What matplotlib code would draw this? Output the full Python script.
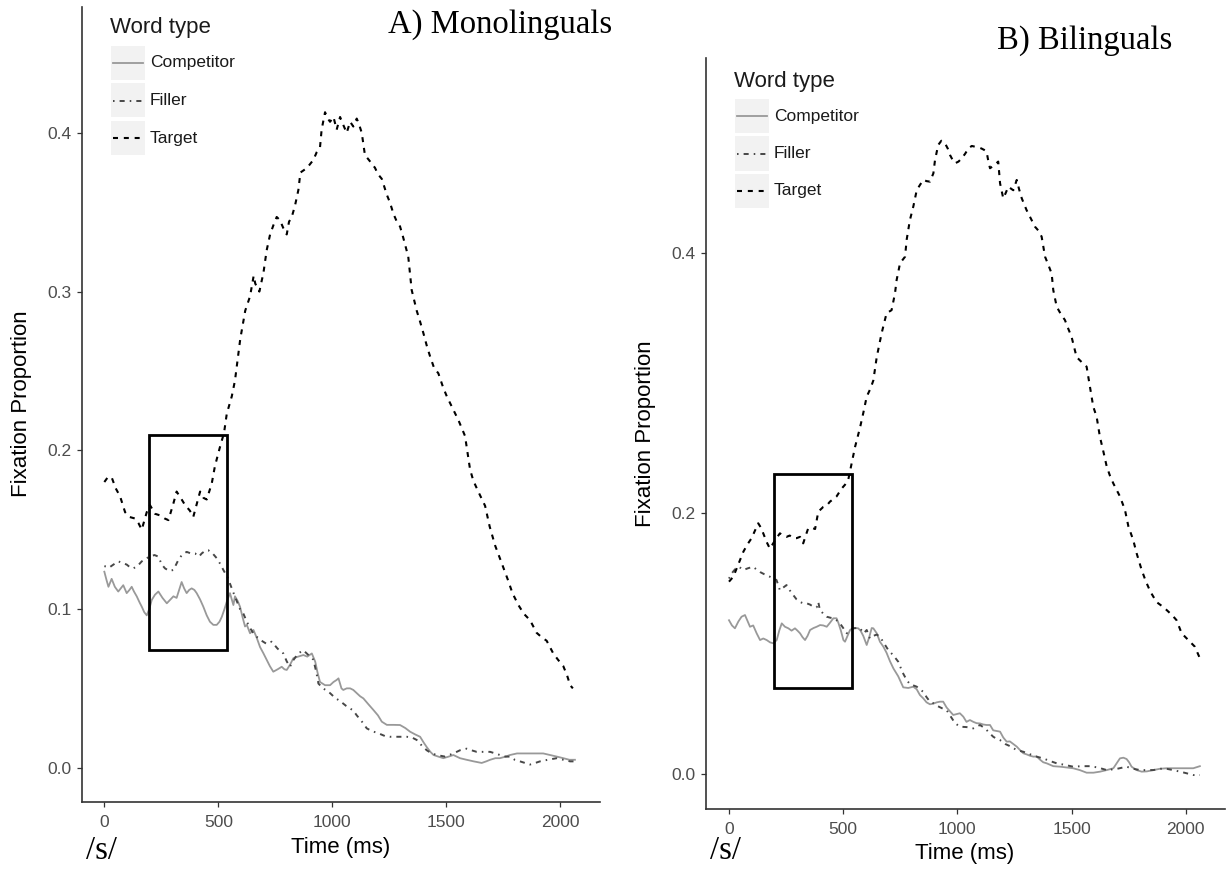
import numpy as np
import matplotlib
matplotlib.use("Agg")
import matplotlib.pyplot as plt
from matplotlib.patches import Rectangle
from matplotlib.lines import Line2D

# ---- data ----
mono_target_t = [0, 15, 32, 50, 69, 91, 110, 135, 150, 164, 186, 200, 222, 244, 265, 281, 303, 317, 335, 354,
                 375, 390, 405, 420, 435, 449, 460, 471, 485, 507, 525, 537, 559, 573, 596, 618, 639, 655, 662, 680,
                 698, 712, 727, 742, 756, 770, 785, 800, 810, 822, 836, 851, 860, 880, 895, 917, 932, 946, 953, 968,
                 980, 990, 1005, 1019, 1034, 1048, 1063, 1078, 1092, 1107, 1118, 1129, 1143, 1160, 1187, 1200, 1217,
                 1239, 1253, 1268, 1283, 1297, 1311, 1333, 1348, 1370, 1385, 1399, 1414, 1429, 1446, 1465, 1485, 1502,
                 1524, 1553, 1582, 1604, 1618, 1640, 1670, 1690, 1714, 1740, 1771, 1790, 1816, 1840, 1867, 1896, 1920,
                 1940, 1969, 1990, 2013, 2030, 2043, 2055]
mono_target_y = [0.180, 0.183, 0.183, 0.176, 0.171, 0.161, 0.158, 0.157, 0.154, 0.150, 0.161, 0.1655, 0.160, 0.159,
                 0.157, 0.156, 0.1666, 0.174, 0.170, 0.1655, 0.162, 0.158, 0.166, 0.174, 0.170, 0.169, 0.174, 0.179,
                 0.190, 0.202, 0.211, 0.223, 0.234, 0.244, 0.270, 0.288, 0.297, 0.310, 0.305, 0.300, 0.312, 0.326,
                 0.336, 0.342, 0.347, 0.345, 0.340, 0.336, 0.344, 0.347, 0.354, 0.364, 0.375, 0.377, 0.379, 0.383,
                 0.388, 0.391, 0.402, 0.413, 0.409, 0.407, 0.410, 0.402, 0.410, 0.405, 0.400, 0.407, 0.404, 0.409,
                 0.405, 0.400, 0.386, 0.383, 0.378, 0.374, 0.371, 0.361, 0.356, 0.349, 0.344, 0.341, 0.334, 0.322,
                 0.301, 0.288, 0.281, 0.274, 0.266, 0.259, 0.252, 0.2485, 0.240, 0.234, 0.2275, 0.219, 0.209, 0.188,
                 0.181, 0.174, 0.165, 0.152, 0.140, 0.130, 0.118, 0.110, 0.1025, 0.097, 0.093, 0.085, 0.082, 0.080,
                 0.072, 0.068, 0.064, 0.058, 0.052, 0.050]

mono_filler_t = [0, 10, 20, 40, 61, 80, 98, 115, 127, 145, 164, 185, 200, 220, 237, 252, 266, 285, 303, 325, 340,
                 361, 380, 398, 415, 427, 445, 456, 475, 493, 510, 522, 540, 551, 573, 595, 610, 625, 639, 654, 668,
                 690, 712, 734, 760, 785, 800, 814, 830, 850, 873, 895, 917, 930, 939, 960, 990, 1012, 1034, 1060,
                 1092, 1107, 1130, 1151, 1175, 1202, 1230, 1253, 1290, 1326, 1350, 1370, 1392, 1414, 1436, 1458, 1494,
                 1531, 1560, 1589, 1610, 1633, 1660, 1692, 1715, 1735, 1760, 1779, 1800, 1823, 1845, 1867, 1890, 1911,
                 1945, 1984, 2013, 2043, 2060]
mono_filler_y = [0.127, 0.1267, 0.126, 0.128, 0.130, 0.129, 0.128, 0.126, 0.1256, 0.127, 0.130, 0.132, 0.133, 0.134,
                 0.133, 0.128, 0.1256, 0.124, 0.1246, 0.131, 0.134, 0.136, 0.135, 0.135, 0.133, 0.135, 0.137, 0.137,
                 0.135, 0.132, 0.128, 0.1246, 0.120, 0.116, 0.1077, 0.100, 0.097, 0.092, 0.088, 0.0847, 0.0825, 0.080,
                 0.078, 0.0794, 0.075, 0.072, 0.067, 0.0636, 0.068, 0.072, 0.074, 0.071, 0.068, 0.060, 0.053, 0.050,
                 0.047, 0.044, 0.042, 0.039, 0.036, 0.033, 0.029, 0.0248, 0.023, 0.0217, 0.020, 0.0195, 0.0195, 0.0195,
                 0.019, 0.0175, 0.014, 0.011, 0.009, 0.008, 0.007, 0.009, 0.011, 0.012, 0.011, 0.010, 0.010, 0.010,
                 0.009, 0.008, 0.007, 0.007, 0.005, 0.004, 0.003, 0.002, 0.003, 0.004, 0.005, 0.006, 0.005, 0.004,
                 0.004]

mono_comp_t = [0, 10, 18, 32, 46, 61, 72, 83, 98, 110, 120, 130, 142, 155, 164, 175, 186, 197, 208, 222, 237, 255,
               274, 290, 303, 317, 328, 339, 350, 361, 372, 383, 395, 405, 420, 434, 449, 463, 478, 493, 505, 515,
               527, 537, 551, 559, 566, 573, 585, 595, 606, 617, 625, 639, 654, 668, 683, 698, 712, 726, 741, 760,
               778, 790, 800, 815, 829, 850, 873, 890, 910, 925, 935, 946, 968, 990, 1005, 1019, 1027, 1040, 1048,
               1063, 1078, 1092, 1107, 1122, 1136, 1158, 1180, 1200, 1217, 1239, 1268, 1297, 1320, 1341, 1363, 1385,
               1400, 1414, 1430, 1444, 1465, 1487, 1510, 1531, 1560, 1589, 1620, 1655, 1675, 1692, 1715, 1735, 1760,
               1779, 1810, 1838, 1870, 1896, 1925, 1955, 1985, 2013, 2040, 2064]
mono_comp_y = [0.1235, 0.118, 0.114, 0.119, 0.114, 0.111, 0.113, 0.115, 0.110, 0.112, 0.114, 0.111, 0.108, 0.104,
               0.1015, 0.098, 0.096, 0.100, 0.1057, 0.109, 0.111, 0.107, 0.1036, 0.106, 0.108, 0.107, 0.112, 0.117,
               0.113, 0.110, 0.112, 0.113, 0.112, 0.110, 0.106, 0.1015, 0.096, 0.092, 0.090, 0.090, 0.092, 0.095,
               0.100, 0.1046, 0.110, 0.106, 0.1025, 0.108, 0.105, 0.1015, 0.095, 0.089, 0.090, 0.0847, 0.0868, 0.082,
               0.076, 0.072, 0.068, 0.064, 0.0605, 0.062, 0.0636, 0.062, 0.0616, 0.065, 0.069, 0.070, 0.071, 0.070,
               0.072, 0.0668, 0.060, 0.054, 0.052, 0.052, 0.054, 0.0553, 0.0563, 0.050, 0.049, 0.050, 0.050, 0.049,
               0.047, 0.045, 0.0437, 0.040, 0.0364, 0.033, 0.029, 0.027, 0.027, 0.0269, 0.025, 0.0227, 0.021, 0.0195,
               0.016, 0.013, 0.010, 0.008, 0.007, 0.006, 0.007, 0.008, 0.006, 0.005, 0.004, 0.003, 0.004, 0.005,
               0.006, 0.006, 0.007, 0.008, 0.009, 0.009, 0.009, 0.009, 0.009, 0.008, 0.007, 0.006, 0.005, 0.005]

bili_target_t = [0, 19, 34, 48, 63, 80, 99, 114, 128, 140, 150, 165, 179, 190, 208, 223, 237, 252, 266, 281, 296,
                 311, 325, 336, 347, 362, 377, 391, 413, 428, 442, 457, 471, 493, 508, 522, 537, 552, 574, 588, 603,
                 620, 632, 647, 668, 690, 712, 727, 734, 749, 771, 778, 792, 807, 822, 836, 851, 865, 880, 895, 902,
                 916, 930, 946, 958, 968, 980, 990, 1005, 1019, 1034, 1048, 1063, 1078, 1092, 1106, 1117, 1128, 1136,
                 1143, 1160, 1179, 1187, 1201, 1212, 1223, 1245, 1260, 1270, 1282, 1303, 1320, 1340, 1355, 1369, 1384,
                 1400, 1413, 1420, 1435, 1453, 1471, 1485, 1500, 1522, 1545, 1566, 1581, 1595, 1610, 1624, 1640, 1654,
                 1668, 1683, 1712, 1734, 1749, 1770, 1785, 1807, 1825, 1845, 1872, 1895, 1916, 1940, 1960, 1982, 2011,
                 2040, 2062]
bili_target_y = [0.1476, 0.1514, 0.158, 0.164, 0.1706, 0.176, 0.181, 0.187, 0.1924, 0.189, 0.1847, 0.178, 0.173,
                 0.176, 0.181, 0.1847, 0.183, 0.182, 0.183, 0.181, 0.181, 0.182, 0.177, 0.183, 0.1886, 0.189, 0.188,
                 0.2013, 0.205, 0.206, 0.209, 0.211, 0.213, 0.219, 0.222, 0.2256, 0.2384, 0.251, 0.266, 0.277, 0.2896,
                 0.296, 0.302, 0.320, 0.338, 0.3536, 0.356, 0.369, 0.379, 0.392, 0.397, 0.410, 0.425, 0.4354, 0.448,
                 0.452, 0.456, 0.455, 0.4546, 0.461, 0.471, 0.4827, 0.486, 0.484, 0.480, 0.475, 0.471, 0.4687, 0.470,
                 0.4725, 0.476, 0.480, 0.482, 0.4814, 0.481, 0.480, 0.479, 0.4776, 0.470, 0.4649, 0.467, 0.470, 0.4533,
                 0.4418, 0.446, 0.4507, 0.448, 0.4559, 0.449, 0.4418, 0.4328, 0.427, 0.420, 0.417, 0.4124, 0.397,
                 0.390, 0.384, 0.3714, 0.3586, 0.353, 0.3484, 0.342, 0.3356, 0.320, 0.316, 0.3126, 0.297, 0.282, 0.274,
                 0.259, 0.247, 0.236, 0.229, 0.223, 0.213, 0.2026, 0.190, 0.1796, 0.1694, 0.1566, 0.148, 0.140, 0.132,
                 0.129, 0.1259, 0.122, 0.118, 0.108, 0.1028, 0.0977, 0.0888]

bili_filler_t = [0, 12, 26, 41, 52, 63, 85, 106, 120, 136, 158, 179, 194, 208, 223, 237, 252, 266, 281, 296, 311,
                 325, 340, 355, 369, 384, 391, 398, 413, 428, 442, 457, 471, 486, 501, 515, 530, 544, 559, 574, 590,
                 603, 617, 632, 647, 661, 680, 698, 720, 741, 760, 778, 792, 807, 822, 836, 851, 865, 880, 895, 915,
                 938, 953, 975, 990, 1011, 1040, 1070, 1099, 1113, 1128, 1143, 1157, 1172, 1187, 1210, 1235, 1259,
                 1290, 1320, 1347, 1375, 1405, 1435, 1470, 1507, 1545, 1580, 1615, 1654, 1700, 1741, 1770, 1800, 1830,
                 1858, 1890, 1916, 1945, 1975, 2005, 2033, 2062]
bili_filler_y = [0.150, 0.154, 0.157, 0.159, 0.158, 0.1566, 0.158, 0.159, 0.157, 0.155, 0.153, 0.1514, 0.150, 0.1489,
                 0.141, 0.143, 0.145, 0.141, 0.1374, 0.134, 0.132, 0.131, 0.131, 0.130, 0.1284, 0.128, 0.132, 0.1259,
                 0.123, 0.1207, 0.120, 0.1195, 0.118, 0.1156, 0.1118, 0.108, 0.110, 0.1118, 0.112, 0.1118, 0.108,
                 0.1105, 0.104, 0.106, 0.107, 0.1054, 0.100, 0.095, 0.091, 0.0862, 0.078, 0.0721, 0.069, 0.068, 0.067,
                 0.065, 0.063, 0.059, 0.0555, 0.0543, 0.052, 0.050, 0.049, 0.043, 0.039, 0.0363, 0.036, 0.035, 0.0376,
                 0.036, 0.0338, 0.031, 0.0286, 0.027, 0.026, 0.023, 0.021, 0.0184, 0.017, 0.015, 0.0133, 0.012, 0.010,
                 0.0082, 0.007, 0.0056, 0.006, 0.006, 0.005, 0.003, 0.004, 0.0056, 0.004, 0.003, 0.003, 0.003, 0.004,
                 0.004, 0.003, 0.0018, 0.0005, -0.0008, -0.0008]

bili_comp_t = [0, 13, 26, 41, 55, 70, 80, 92, 106, 121, 136, 150, 165, 180, 194, 209, 220, 231, 245, 260, 274, 289,
               300, 311, 322, 333, 344, 355, 370, 384, 399, 413, 428, 442, 457, 471, 479, 490, 501, 508, 519, 530,
               544, 556, 566, 576, 588, 603, 614, 625, 632, 647, 661, 676, 690, 705, 720, 741, 763, 785, 807, 822,
               836, 851, 865, 880, 895, 910, 924, 938, 953, 968, 982, 997, 1011, 1026, 1040, 1055, 1070, 1084, 1099,
               1113, 1128, 1143, 1157, 1172, 1187, 1201, 1216, 1230, 1245, 1260, 1274, 1289, 1304, 1318, 1333, 1347,
               1362, 1376, 1391, 1420, 1450, 1478, 1507, 1536, 1566, 1596, 1625, 1654, 1683, 1697, 1712, 1727, 1741,
               1752, 1763, 1785, 1807, 1830, 1858, 1887, 1916, 1945, 1975, 2004, 2033, 2062]
bili_comp_y = [0.118, 0.114, 0.1118, 0.117, 0.1207, 0.122, 0.118, 0.113, 0.114, 0.108, 0.1028, 0.104, 0.1028, 0.101,
               0.1003, 0.1028, 0.110, 0.1156, 0.113, 0.1118, 0.110, 0.1118, 0.110, 0.108, 0.105, 0.1028, 0.106,
               0.1105, 0.112, 0.113, 0.1143, 0.114, 0.113, 0.116, 0.1195, 0.1195, 0.116, 0.110, 0.1028, 0.1015, 0.106,
               0.1105, 0.112, 0.112, 0.1118, 0.110, 0.106, 0.099, 0.105, 0.112, 0.1118, 0.108, 0.1015, 0.0977, 0.093,
               0.0865, 0.081, 0.075, 0.0665, 0.066, 0.067, 0.065, 0.0606, 0.058, 0.055, 0.0535, 0.054, 0.055, 0.0555,
               0.0555, 0.051, 0.048, 0.0453, 0.046, 0.0466, 0.044, 0.040, 0.0414, 0.040, 0.039, 0.0388, 0.038, 0.0376,
               0.0376, 0.0335, 0.033, 0.0325, 0.028, 0.0248, 0.025, 0.023, 0.021, 0.0184, 0.0159, 0.015, 0.014,
               0.0133, 0.0135, 0.011, 0.009, 0.0082, 0.006, 0.0056, 0.005, 0.0044, 0.003, 0.001, 0.001, 0.0018, 0.003,
               0.0044, 0.008, 0.012, 0.0125, 0.0115, 0.009, 0.0056, 0.003, 0.0018, 0.002, 0.003, 0.004, 0.0044,
               0.0044, 0.0044, 0.0044, 0.0044, 0.006]

word_types = ["Competitor", "Filler", "Target"]
x_ticks = [0, 500, 1000, 1500, 2000]

# ---- styles ----
W, H = 1227, 869
SANS = ["Liberation Sans", "DejaVu Sans"]
SERIF = ["Liberation Serif", "DejaVu Serif"]
styles = {
    "Competitor": dict(color="#999999", lw=1.3, ls="-"),
    "Filler": dict(color="#474747", lw=1.4, ls=(0, (0.8, 2.6, 2.6, 2.6))),
    "Target": dict(color="#000000", lw=1.5, ls=(0, (2.4, 2.8))),
}


def fx(px):
    return px / W


def fy(py):
    return 1 - py / H


def style_axes(ax, yticks):
    for s in ["top", "right"]:
        ax.spines[s].set_visible(False)
    for s in ["left", "bottom"]:
        ax.spines[s].set_color("#333333")
        ax.spines[s].set_linewidth(1.2)
    ax.set_xticks(x_ticks)
    ax.set_yticks(yticks)
    ax.set_yticklabels([f"{v:.1f}" for v in yticks])
    ax.tick_params(axis="both", colors="#333333", labelcolor="#4d4d4d", labelsize=12.5,
                   length=3.5, width=0.9)
    ax.tick_params(axis="x", pad=6)
    ax.tick_params(axis="y", pad=4)
    for lab in ax.get_xticklabels() + ax.get_yticklabels():
        lab.set_family(SANS)


def draw_legend(x0, y0):
    # x0, y0: top-left of the legend in pixels
    fig.text(fx(x0), fy(y0 + 21), "Word type", fontsize=16, family=SANS, color="#1a1a1a", va="center")
    for i, name in enumerate(word_types):
        top = y0 + 39 + i * 37.5
        fig.add_artist(Rectangle((fx(x0 + 1), fy(top + 34)), 34 / W, 34 / H, transform=fig.transFigure,
                                 facecolor="#f2f2f2", edgecolor="none"))
        yc = fy(top + 17)
        st = styles[name]
        fig.add_artist(Line2D([fx(x0 + 3), fx(x0 + 33)], [yc, yc], transform=fig.transFigure,
                              color=st["color"], lw=st["lw"], linestyle=st["ls"]))
        fig.text(fx(x0 + 40), yc, name, fontsize=12.5, family=SANS, color="#1a1a1a", va="center")


fig = plt.figure(figsize=(W / 100, H / 100), dpi=100)

panels = [
    dict(rect=[fx(82), fy(802), (600 - 82) / W, (802 - 7) / H], xlim=(-98, 2174), ylim=(-0.0216, 0.4793),
         yticks=[0.0, 0.1, 0.2, 0.3, 0.4],
         series={"Competitor": (mono_comp_t, mono_comp_y), "Filler": (mono_filler_t, mono_filler_y),
                 "Target": (mono_target_t, mono_target_y)},
         box=(195, 0.074, 540, 0.2096)),
    dict(rect=[fx(705.7), fy(809.3), (1225 - 705.7) / W, (809.3 - 58) / H], xlim=(-102, 2172),
         ylim=(-0.0271, 0.5495), yticks=[0.0, 0.2, 0.4],
         series={"Competitor": (bili_comp_t, bili_comp_y), "Filler": (bili_filler_t, bili_filler_y),
                 "Target": (bili_target_t, bili_target_y)},
         box=(195, 0.066, 537, 0.230)),
]

for p in panels:
    ax = fig.add_axes(p["rect"])
    for name in word_types:
        t, v = p["series"][name]
        st = styles[name]
        ax.plot(np.array(t), np.array(v), color=st["color"], lw=st["lw"], linestyle=st["ls"])
    x0, y0, x1, y1 = p["box"]
    ax.add_patch(Rectangle((x0, y0), x1 - x0, y1 - y0, fill=False, edgecolor="black", lw=2.0, zorder=5))
    ax.set_xlim(*p["xlim"])
    ax.set_ylim(*p["ylim"])
    style_axes(ax, p["yticks"])

# axis titles
fig.text(fx(22), fy(404), "Fixation Proportion", rotation=90, fontsize=16, family=SANS, va="center", ha="center")
fig.text(fx(646), fy(434), "Fixation Proportion", rotation=90, fontsize=16, family=SANS, va="center", ha="center")
fig.text(fx(341), fy(848), "Time (ms)", fontsize=16, family=SANS, va="center", ha="center")
fig.text(fx(965), fy(853), "Time (ms)", fontsize=16, family=SANS, va="center", ha="center")

# panel titles and /s/ markers
fig.text(fx(388), fy(25), "A) Monolinguals", fontsize=23.5, family=SERIF, va="center", ha="left")
fig.text(fx(997), fy(41), "B) Bilinguals", fontsize=23.5, family=SERIF, va="center", ha="left")
fig.text(fx(102), fy(851), "/s/", fontsize=23.5, family=SERIF, va="center", ha="center")
fig.text(fx(725), fy(851), "/s/", fontsize=23.5, family=SERIF, va="center", ha="center")

draw_legend(110, 7)
draw_legend(734, 60)

fig.savefig("out.png", dpi=100)
